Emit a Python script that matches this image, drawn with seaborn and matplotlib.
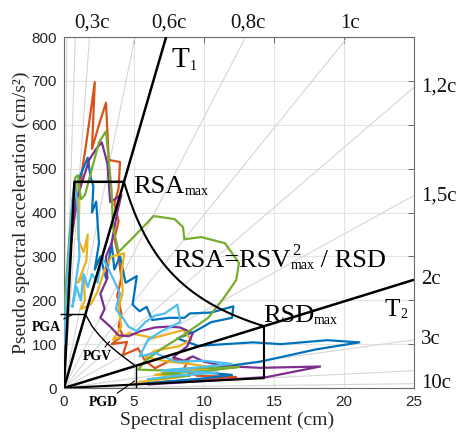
import numpy as np
import pandas as pd
import matplotlib
matplotlib.use("Agg")
import matplotlib.pyplot as plt
import seaborn as sns

# ---------------------------------------------------------------- data
SD_MAX, SA_MAX = 25, 800
x_ticks = [0, 5, 10, 15, 20, 25]
y_ticks = [0, 100, 200, 300, 400, 500, 600, 700, 800]

# constant-period guide lines (s)
guide_periods = [0.1, 0.2, 0.3, 0.5, 0.8, 1.0, 1.2, 1.5, 3.0, 5.0, 10.0]
top_labelled = [0.3, 0.6, 0.8, 1.0]
right_labelled = [1.2, 1.5, 2.0, 3.0, 10.0]

# design envelope parameters
T0, T1, T2, T_end = 0.25, 0.6, 2.0, 5.0
RSA_MAX = 470.0          # cm/s2
PGA = 168.0              # cm/s2

# constant-velocity branch between PGA and PGD
pgv_sd = [1.53, 2.0, 2.5, 3.0, 3.5, 4.0, 4.5, 5.11]
pgv_sa = [168, 141, 121, 104, 90, 77, 65, 50.4]

# response spectra (Sd in cm, PSa in cm/s2)
rec1_sd = [0.0, 0.3, 0.5, 0.8, 1.1, 1.3, 1.6, 2.2, 2.0, 2.5, 3.0, 3.1, 3.2, 4.0, 3.9, 3.6, 3.9, 3.6, 3.9, 4.1,
           3.8, 4.1, 3.9, 4.2, 3.4, 4.5, 4.2, 5.3, 5.8, 6.5, 7.8, 8.4, 9.0, 8.5, 9.5, 12.3, 10.0, 7.0, 5.0]
rec1_sa = [165, 250, 330, 400, 440, 497, 560, 697, 545, 600, 650, 585, 520, 515, 455, 420, 380, 340, 300, 250,
           210, 170, 140, 120, 100, 105, 75, 90, 62, 45, 66, 58, 70, 40, 28, 25, 20, 14, 9]

rec2_sd = [0.0, 0.2, 0.4, 0.6, 0.8, 1.0, 1.3, 1.7, 1.9, 2.1, 2.0, 2.3, 2.5, 2.2, 2.6, 3.0, 3.4, 3.6, 4.0, 4.4,
           5.2, 4.9, 5.4, 5.9, 6.3, 7.5, 8.6, 9.0, 10.5, 12.1, 12.0, 10.5, 9.3, 8.1, 9.6, 11.5, 13.5, 15.5,
           18.8, 21.1, 18.0, 14.0, 11.0, 9.0, 12.0, 10.0, 7.5, 5.5]
rec2_sa = [120, 240, 330, 400, 430, 470, 495, 525, 480, 460, 400, 425, 330, 270, 300, 250, 330, 270, 300, 240,
           255, 190, 175, 185, 155, 160, 160, 170, 172, 186, 160, 150, 128, 113, 96, 100, 104, 100,
           109, 104, 88, 60, 47, 38, 30, 22, 15, 10]

rec3_sd = [0.0, 0.3, 0.5, 0.7, 0.9, 1.1, 1.0, 1.4, 1.7, 1.6, 1.0, 1.4, 1.5, 1.2, 1.9, 2.4, 2.9, 3.4, 4.3, 4.1,
           4.2, 3.9, 4.1, 3.5, 4.7, 6.4, 8.5, 9.1, 8.2, 6.5, 5.8, 7.5, 9.0, 11.0, 8.0, 6.5, 8.5, 7.6, 5.4]
rec3_sa = [150, 250, 350, 420, 470, 420, 340, 310, 350, 290, 240, 255, 200, 180, 190, 220, 270, 300, 307, 260,
           220, 180, 140, 110, 125, 114, 132, 110, 95, 85, 70, 60, 55, 45, 38, 30, 26, 22, 14]

rec4_sd = [0.0, 0.3, 0.6, 0.9, 1.3, 1.8, 2.3, 2.7, 3.1, 3.3, 4.1, 3.8, 3.4, 3.0, 3.1, 2.6, 2.9, 2.6, 3.3, 3.9,
           4.6, 5.5, 6.5, 7.5, 8.3, 9.2, 8.8, 7.8, 8.6, 9.2, 10.0, 11.5, 14.0, 18.3, 14.5, 11.0, 8.0, 6.0]
rec4_sa = [155, 270, 360, 430, 470, 520, 545, 560, 512, 424, 440, 400, 330, 300, 250, 215, 180, 160, 140, 120,
           118, 130, 138, 140, 138, 125, 95, 70, 62, 72, 60, 50, 46, 49, 25, 18, 12, 8]

rec5_sd = [0.0, 0.2, 0.4, 0.6, 0.8, 1.0, 1.2, 1.5, 2.0, 2.5, 3.0, 3.2, 3.4, 3.5, 3.9, 5.0, 6.4, 7.9, 8.5, 8.6,
           9.8, 11.5, 12.5, 12.3, 11.3, 10.3, 8.5, 7.0, 5.8, 5.3, 7.0, 9.0, 11.0, 12.5, 10.0, 7.0, 9.0, 6.0]
rec5_sa = [170, 260, 350, 420, 480, 485, 430, 440, 500, 560, 585, 520, 450, 367, 310, 345, 392, 385, 367, 339,
           344, 330, 285, 246, 200, 160, 120, 90, 62, 42, 40, 45, 46, 48, 38, 33, 28, 20]

rec6_sd = [0.0, 0.2, 0.4, 0.6, 0.8, 1.0, 1.1, 0.6, 0.9, 1.2, 1.4, 1.7, 2.0, 2.4, 2.7, 3.2, 3.5, 4.0, 3.7, 4.2,
           4.6, 5.2, 5.8, 6.5, 7.2, 8.1, 8.3, 7.0, 6.0, 5.4, 6.5, 8.0, 10.0, 12.0, 9.0, 7.0, 11.0, 8.0, 6.0]
rec6_sa = [100, 230, 330, 430, 470, 400, 300, 185, 230, 200, 260, 230, 260, 240, 300, 270, 250, 215, 180, 160,
           140, 130, 150, 165, 170, 190, 150, 130, 110, 72, 80, 60, 62, 55, 45, 40, 35, 28, 20]

rec_colors = ["#D95319", "#0072BD", "#EDB120", "#7E2F8E", "#77AC30", "#4DBEEE"]

# ---------------------------------------------------------------- style
sns.set_theme(style="white")
SERIF = "Liberation Serif"
SANS = "Liberation Sans"
plt.rcParams["font.family"] = [SANS, "DejaVu Sans"]

fig = plt.figure(figsize=(4.58, 4.33), dpi=100)
ax = fig.add_axes([0.1397, 0.1039, 0.7642, 0.8106])


def omega2(T):
    return (2 * np.pi / T) ** 2


def ray(T):
    w2 = omega2(T)
    sd_end = min(SD_MAX, SA_MAX / w2)
    return np.array([0.0, sd_end]), np.array([0.0, w2 * sd_end])


# guide rays
for T in guide_periods:
    xs, ys = ray(T)
    ax.plot(xs, ys, color="#d6d6d6", lw=0.8, zorder=1)

# response spectra
recs = [(rec1_sd, rec1_sa), (rec2_sd, rec2_sa), (rec3_sd, rec3_sa),
        (rec4_sd, rec4_sa), (rec5_sd, rec5_sa), (rec6_sd, rec6_sa)]
frames = []
for i, (sd, sa) in enumerate(recs):
    frames.append(pd.DataFrame({"sd": sd, "sa": sa, "rec": f"r{i+1}",
                                "step": np.arange(len(sd))}))
df = pd.concat(frames, ignore_index=True)
sns.lineplot(data=df, x="sd", y="sa", hue="rec", palette=rec_colors, sort=False,
             estimator=None, units="rec", legend=False, lw=1.6, ax=ax, zorder=3)

# design envelope
sd0 = RSA_MAX / omega2(T0)
sd1 = RSA_MAX / omega2(T1)
rsv2 = RSA_MAX * sd1
rsd = np.sqrt(rsv2 / omega2(T2))
sa_end = omega2(T_end) * rsd
hyp_sd = np.linspace(sd1, rsd, 80)
hyp_sa = rsv2 / hyp_sd

k = dict(color="black", zorder=5, solid_capstyle="butt")
for T, lw in [(T1, 1.8), (T2, 1.8)]:
    xs, ys = ray(T)
    ax.plot(xs, ys, lw=lw, **k)
ax.plot([0, sd0, sd1], [0, RSA_MAX, RSA_MAX], lw=1.8, **k)
ax.plot(hyp_sd, hyp_sa, lw=1.5, **k)
ax.plot([rsd, rsd, 0], [rsv2 / rsd, sa_end, 0], lw=1.5, **k)

# PGA / PGV / PGD branch
sd_pga = PGA / omega2(T1)
ax.plot([-0.25, sd_pga], [PGA, PGA], lw=1.0, clip_on=False, **k)
ax.plot(pgv_sd, pgv_sa, lw=1.0, **k)
ax.plot([pgv_sd[-1], pgv_sd[-1]], [pgv_sa[-1], 0], lw=1.0, **k)

# ---------------------------------------------------------------- axes
ax.set_xlim(0, SD_MAX)
ax.set_ylim(0, SA_MAX)
ax.set_xticks(x_ticks)
ax.set_yticks(y_ticks)
ax.grid(True, color="#e4e4e4", lw=0.8, zorder=0)
ax.set_axisbelow(True)
for s in ax.spines.values():
    s.set_color("#6a6a6a")
    s.set_linewidth(0.8)
    s.set_visible(True)
ax.tick_params(direction="in", top=True, right=True, length=4, width=0.7,
               color="#6a6a6a", labelcolor="#262626", labelsize=11, pad=5)
for lab in ax.get_xticklabels() + ax.get_yticklabels():
    lab.set_family(SANS)

ax.set_xlabel("Spectral displacement (cm)", family=SERIF, fontsize=14, color="#262626")
ax.set_ylabel("Pseudo spectral acceleration (cm/s²)", family=SERIF, fontsize=14, color="#262626")
ax.xaxis.set_label_coords(0.467, -0.068)
ax.yaxis.set_label_coords(-0.097, 0.5)

# period labels
def plabel(T):
    return f"{T:g}".replace(".", ",") + "c"

for T in top_labelled:
    sd_top = SA_MAX / omega2(T)
    ax.annotate(plabel(T), xy=(sd_top, SA_MAX), xytext=(2, 3), textcoords="offset points",
                ha="center", va="bottom", family=SERIF, fontsize=15, color="#111111",
                annotation_clip=False)
for T in right_labelled:
    sa_r = omega2(T) * SD_MAX
    ax.annotate(plabel(T), xy=(SD_MAX, sa_r), xytext=(5, 0), textcoords="offset points",
                ha="left", va="center", family=SERIF, fontsize=15, color="#111111",
                annotation_clip=False)

# envelope annotations
tk = dict(family=SERIF, color="black", zorder=6)


def sub_after(t, s, size):
    return ax.annotate(s, xy=(1, 0), xycoords=t, ha="left", va="bottom", fontsize=size, **tk)


t = ax.text(7.7, 731, "T", fontsize=21, **tk)
sub_after(t, "1", 10)
t = ax.text(22.9, 164, "T", fontsize=18, **tk)
sub_after(t, "2", 10)
t = ax.text(4.93, 444, "RSA", fontsize=19, **tk)
sub_after(t, "max", 10)
t = ax.text(14.2, 150, "RSD", fontsize=19, **tk)
sub_after(t, "max", 10)
t = ax.text(7.79, 276, "RSA=RSV", fontsize=19, **tk)
ax.annotate("2", xy=(1, 1), xycoords=t, xytext=(1, 5), textcoords="offset points",
            ha="left", va="top", fontsize=12, **tk)
m = sub_after(t, "max", 10)
ax.annotate(" / RSD", xy=(1, 0), xycoords=m, ha="left", va="bottom", fontsize=19, **tk)

# PGA / PGV / PGD labels with leaders
lk = dict(family=SERIF, fontsize=10, fontweight="bold", color="black",
          ha="center", va="center", annotation_clip=False,
          arrowprops=dict(arrowstyle="-", color="black", lw=0.8, shrinkA=0, shrinkB=0))
ax.annotate("PGA", xy=(0.65, PGA), xytext=(-1.29, 137), **lk)
ax.annotate("PGV", xy=(3.25, 106), xytext=(2.36, 71), **lk)
ax.annotate("PGD", xy=(5.05, 16), xytext=(2.79, -34), **lk)

fig.savefig("out.png", dpi=100)
